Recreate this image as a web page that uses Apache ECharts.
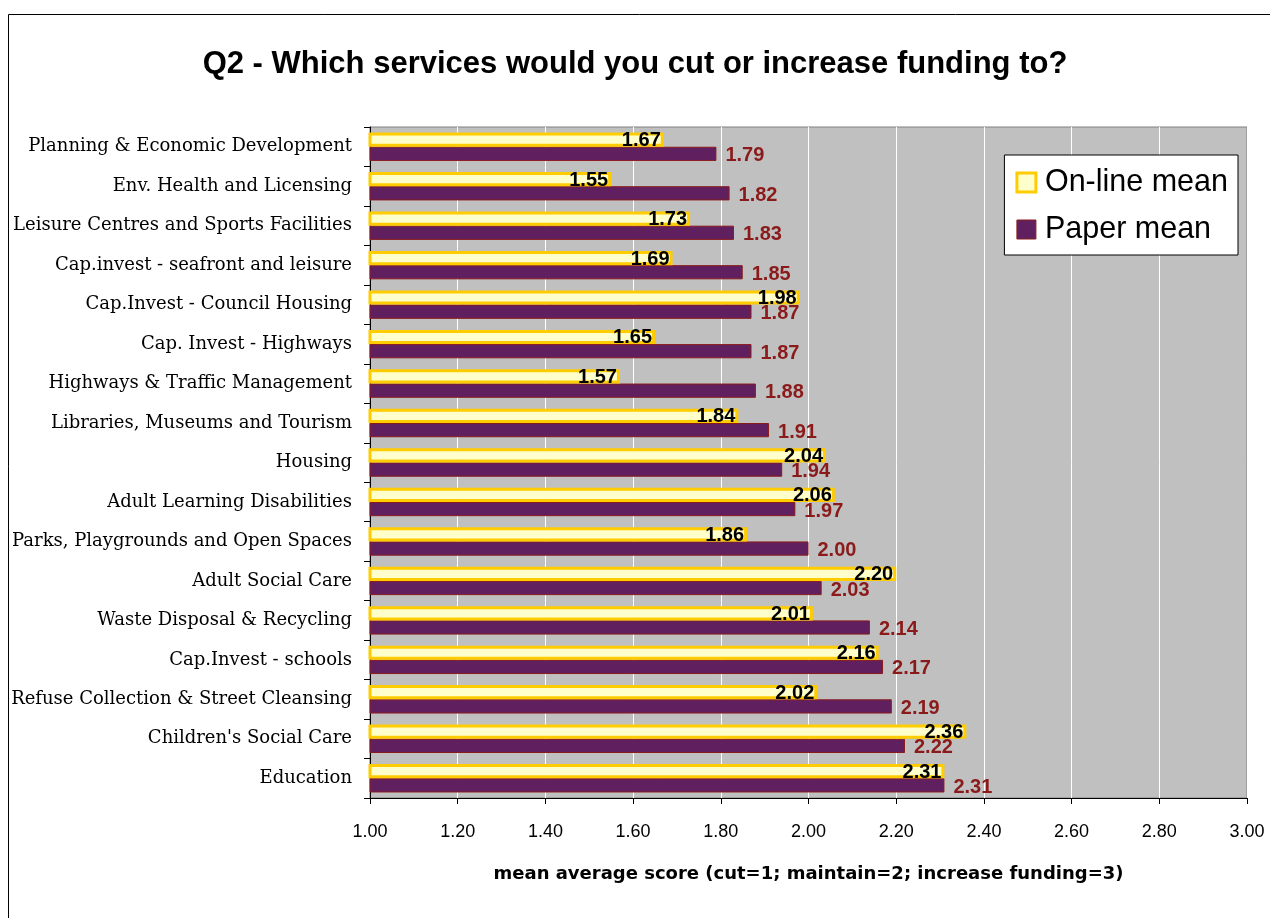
<!DOCTYPE html>
<html>
<head>
<meta charset="utf-8">
<script src="https://cdn.jsdelivr.net/npm/echarts@6/dist/echarts.min.js"></script>
<style>
  html, body { margin: 0; padding: 0; background: #fff; }
  #chart { width: 1270px; height: 918px; }
</style>
</head>
<body>
<div id="chart"></div>
<script>
// Services, listed top to bottom
const services = [
  'Planning & Economic Development',
  'Env. Health and Licensing',
  'Leisure Centres and Sports Facilities',
  'Cap.invest - seafront and leisure',
  'Cap.Invest - Council Housing',
  'Cap. Invest - Highways',
  'Highways & Traffic Management',
  'Libraries, Museums and Tourism',
  'Housing',
  'Adult Learning Disabilities',
  'Parks, Playgrounds and Open Spaces',
  'Adult Social Care',
  'Waste Disposal & Recycling',
  'Cap.Invest - schools',
  'Refuse Collection & Street Cleansing',
  "Children's Social Care",
  'Education'
];

const onlineMean = [1.67, 1.55, 1.73, 1.69, 1.98, 1.65, 1.57, 1.84, 2.04, 2.06, 1.86, 2.20, 2.01, 2.16, 2.02, 2.36, 2.31];
const paperMean  = [1.79, 1.82, 1.83, 1.85, 1.87, 1.87, 1.88, 1.91, 1.94, 1.97, 2.00, 2.03, 2.14, 2.17, 2.19, 2.22, 2.31];

const xMin = 1.0, xMax = 3.0, xStep = 0.2;

const chart = echarts.init(document.getElementById('chart'));

chart.setOption({
  backgroundColor: '#ffffff',
  animation: false,
  title: {
    text: 'Q2 - Which services would you cut or increase funding to?',
    left: 'center',
    top: 44,
    textStyle: { fontFamily: 'Liberation Sans, Arial', fontWeight: 'bold', fontSize: 31, color: '#000' }
  },
  graphic: [{
    type: 'rect',
    shape: { x: 8.5, y: 14.5, width: 1275, height: 920 },
    style: { fill: 'none', stroke: '#000', lineWidth: 1 },
    silent: true
  }],
  legend: {
    right: 32,
    top: 155,
    orient: 'vertical',
    backgroundColor: '#ffffff',
    borderColor: '#000',
    borderWidth: 1,
    padding: [12, 10, 10, 11],
    itemGap: 16,
    itemWidth: 19,
    itemHeight: 19,
    icon: 'rect',
    textStyle: { fontFamily: 'Liberation Sans, Arial', fontSize: 30.5, color: '#000', padding: [0, 0, 0, 4] },
    data: [
      { name: 'On-line mean', itemStyle: { color: '#ffffcc', borderColor: '#ffcc00', borderWidth: 3 } },
      { name: 'Paper mean', itemStyle: { color: '#602060', borderColor: '#8b1a1a', borderWidth: 1 } }
    ]
  },
  grid: {
    left: 370, right: 23, top: 127, bottom: 120,
    show: true,
    backgroundColor: '#c0c0c0',
    borderColor: '#808080',
    borderWidth: 1
  },
  xAxis: {
    type: 'value',
    min: xMin,
    max: xMax,
    interval: xStep,
    name: 'mean average score (cut=1; maintain=2; increase funding=3)',
    nameLocation: 'middle',
    nameGap: 67,
    nameTextStyle: { fontFamily: 'DejaVu Sans, Liberation Sans', fontWeight: 'bold', fontSize: 18, color: '#000' },
    axisLine: { show: true, lineStyle: { color: '#000', width: 1 } },
    axisTick: { show: true, length: 6, lineStyle: { color: '#000' } },
    axisLabel: {
      formatter: v => v.toFixed(2),
      fontFamily: 'Liberation Sans, Arial',
      fontSize: 18,
      color: '#000',
      margin: 25
    },
    splitLine: { show: true, lineStyle: { color: '#ffffff', width: 1 } }
  },
  yAxis: {
    type: 'category',
    data: services,
    inverse: true,
    axisLine: { show: true, lineStyle: { color: '#000', width: 1 } },
    axisTick: { show: true, length: 6, lineStyle: { color: '#000' } },
    axisLabel: {
      fontFamily: 'DejaVu Serif, Liberation Serif',
      fontSize: 18,
      color: '#000',
      margin: 18
    },
    splitLine: { show: false }
  },
  series: [
    {
      name: 'On-line mean',
      type: 'bar',
      data: onlineMean,
      barGap: '0%',
      barCategoryGap: '28%',
      itemStyle: { color: '#ffffcc', borderColor: '#ffcc00', borderWidth: 3 },
      label: {
        show: true,
        position: 'insideRight',
        offset: [2, 1],
        formatter: p => p.value.toFixed(2),
        fontFamily: 'Liberation Sans, Arial',
        fontWeight: 'bold',
        fontSize: 20,
        color: '#000'
      },
      z: 3
    },
    {
      name: 'Paper mean',
      type: 'bar',
      data: paperMean,
      itemStyle: { color: '#602060', borderColor: '#8b1a1a', borderWidth: 1 },
      label: {
        show: true,
        position: 'right',
        distance: 9,
        offset: [0, 2],
        formatter: p => p.value.toFixed(2),
        fontFamily: 'Liberation Sans, Arial',
        fontWeight: 'bold',
        fontSize: 20,
        color: '#8b1a1a'
      },
      z: 2
    }
  ]
});
</script>
</body>
</html>
